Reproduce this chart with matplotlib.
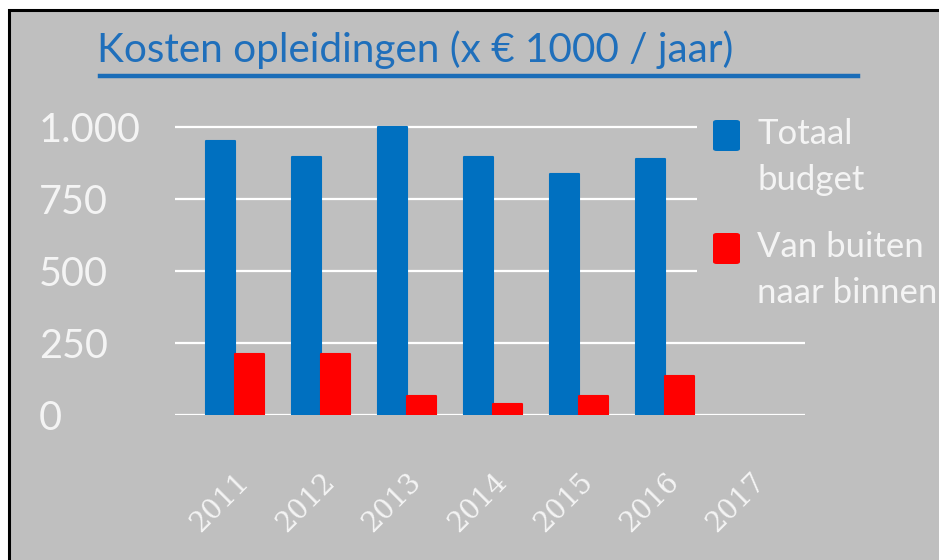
import matplotlib
matplotlib.use('Agg')
import matplotlib.pyplot as plt
from matplotlib.patches import Rectangle, FancyBboxPatch
from matplotlib.transforms import ScaledTranslation
import numpy as np

plt.rcParams['font.family'] = ['Lato', 'DejaVu Sans']

years = ['2011', '2012', '2013', '2014', '2015', '2016', '2017']
totaal = [950, 895, 1000, 895, 835, 890]
van_buiten = [210, 210, 65, 38, 65, 135]
y_ticks = [0, 250, 500, 750, 1000]
y_labels = ['0', '250', '500', '750', '1.000']

grey = '#bfbfbf'
blue = '#0070c0'
red = '#ff0000'
txt = '#f4f4f4'

fig = plt.figure(figsize=(9.39, 5.6), dpi=100, facecolor='white')
# slide panel with black border top / left
fig.patches.append(Rectangle((9 / 939, -0.1), 1.1, 1 - 10 / 560 + 0.1,
                             transform=fig.transFigure, facecolor=grey,
                             edgecolor='black', lw=2.2, zorder=-5))

ax = fig.add_axes([175 / 939, 1 - 415 / 560, 630 / 939, 291 / 560])
ax.set_facecolor('none')
x = np.arange(len(totaal))
w = 0.34
ax.bar(x - w / 2, totaal, w, color=blue, edgecolor=blue, lw=1.5,
       joinstyle='round', zorder=3)
ax.bar(x + w / 2, van_buiten, w, color=red, edgecolor=red, lw=1.5,
       joinstyle='round', zorder=3)

ax.set_xlim(-0.7, 6.63)
ax.set_ylim(0, 1010)
ax.set_yticks(y_ticks)
ax.set_yticklabels(y_labels, ha='left', color=txt, fontsize=28.5)
ax.tick_params(axis='y', length=0, pad=98)
ax.set_xticks(range(len(years)))
ax.set_xticklabels(years, rotation=45, ha='right', va='center',
                   rotation_mode='anchor', color=txt, fontsize=20,
                   family='DejaVu Serif')
ax.tick_params(axis='x', length=0, pad=45)
shift = ScaledTranslation(10 / 100, 0, fig.dpi_scale_trans)
for lab in ax.get_xticklabels():
    lab.set_transform(lab.get_transform() + shift)
ax.grid(axis='y', color='white', lw=1.6, zorder=1)
for s in ax.spines.values():
    s.set_visible(False)

# title with underline
fig.text(97 / 939, 1 - 62 / 560, 'Kosten opleidingen (x € 1000 / jaar)',
         color='#1f6fbb', fontsize=29.2, ha='left', va='baseline')
fig.lines.append(plt.Line2D([100 / 939, 858 / 939], [1 - 76 / 560, 1 - 76 / 560],
                            transform=fig.transFigure, color='#1a6db8', lw=3.2))

# legend area (covers upper gridlines like the original)
fig.patches.append(Rectangle((697 / 939, 1 - 320 / 560), 242 / 939, 220 / 560,
                             transform=fig.transFigure, facecolor=grey,
                             edgecolor='none', zorder=2))
for (y0, col, lab) in [(120, blue, 'Totaal\nbudget'),
                       (233, red, 'Van buiten\nnaar binnen')]:
    fig.patches.append(FancyBboxPatch((713 / 939, 1 - (y0 + 31) / 560), 27 / 939, 31 / 560,
                                      boxstyle='round,pad=0,rounding_size=0.004',
                                      transform=fig.transFigure, facecolor=col,
                                      edgecolor='none', zorder=3))
    fig.text(757 / 939, 1 - (y0 - 2) / 560, lab, color=txt, fontsize=25,
             ha='left', va='top', linespacing=1.55, zorder=4)

fig.savefig('out.png', dpi=100, facecolor='white')
